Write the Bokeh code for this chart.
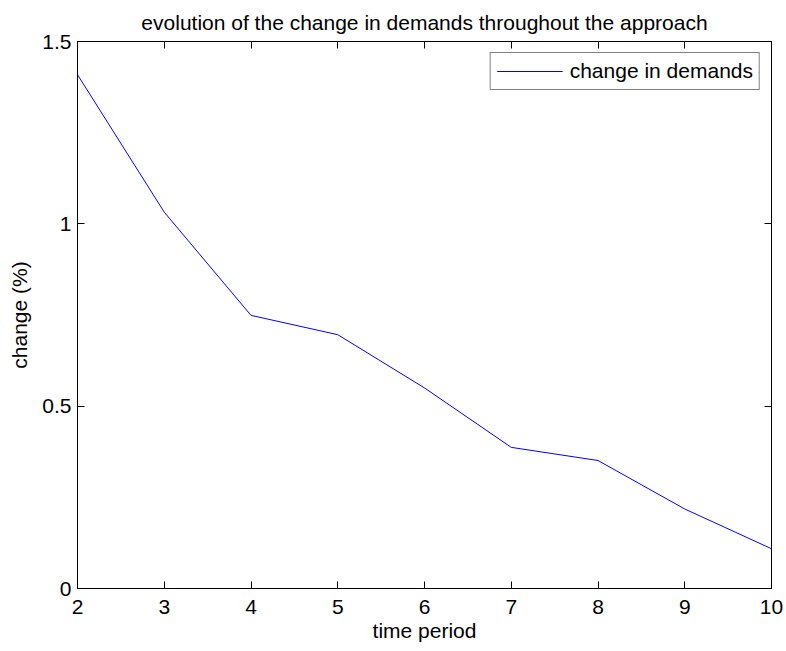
from bokeh.plotting import figure
from bokeh.models import Range1d, FixedTicker, LinearAxis, Legend, LegendItem
from bokeh.embed import file_html
from bokeh.resources import INLINE

time_period = [2, 3, 4, 5, 6, 7, 8, 9, 10]
change_pct = [1.409, 1.032, 0.749, 0.696, 0.550, 0.387, 0.351, 0.218, 0.109]
x_ticks = [2, 3, 4, 5, 6, 7, 8, 9, 10]
y_ticks = [0, 0.5, 1, 1.5]
y_tick_labels = ["0", "0.5", "1", "1.5"]

FONT = "Liberation Sans"
FS = "21px"

p = figure(width=786, height=651, output_backend="svg", toolbar_location=None,
           x_range=Range1d(2, 10), y_range=Range1d(0, 1.5),
           min_border_left=77, min_border_right=15, min_border_top=41, min_border_bottom=63,
           title="evolution of the change in demands throughout the approach")
p.title.text_font = FONT
p.title.text_font_size = FS
p.title.text_font_style = "normal"
p.title.align = "center"
p.title.text_color = "black"
p.title.standoff = 16

p.xgrid.visible = False
p.ygrid.visible = False
p.outline_line_color = "black"
p.outline_line_width = 1
p.background_fill_color = "white"
p.border_fill_color = "white"

r = p.line(time_period, change_pct, line_color="#0000ff", line_width=1)

def style(ax, labels=True):
    ax.minor_tick_line_color = None
    ax.major_tick_in = 7
    ax.major_tick_out = 0
    ax.axis_line_color = "black"
    ax.major_tick_line_color = "black"
    ax.major_label_text_font = FONT
    ax.major_label_text_font_size = FS if labels else "0px"
    ax.major_label_text_color = "black"
    ax.axis_label_text_font = FONT
    ax.axis_label_text_font_size = FS
    ax.axis_label_text_font_style = "normal"
    ax.axis_label_text_color = "black"

p.xaxis.ticker = FixedTicker(ticks=x_ticks)
p.yaxis.ticker = FixedTicker(ticks=y_ticks)
p.yaxis.major_label_overrides = {t: l for t, l in zip(y_ticks, y_tick_labels)}
p.xaxis.axis_label = "time period"
p.yaxis.axis_label = "change (%)"
style(p.xaxis[0])
style(p.yaxis[0])
p.xaxis.major_label_standoff = 11
p.yaxis.major_label_standoff = 6
p.xaxis.axis_label_standoff = 2
p.yaxis.axis_label_standoff = 8

top = LinearAxis(ticker=FixedTicker(ticks=x_ticks), major_label_standoff=0)
style(top, labels=False)
right = LinearAxis(ticker=FixedTicker(ticks=y_ticks), major_label_standoff=0)
style(right, labels=False)
p.add_layout(top, "above")
p.add_layout(right, "right")

legend = Legend(items=[LegendItem(label="change in demands", renderers=[r])],
                location="top_right")
legend.label_text_font = FONT
legend.label_text_font_size = FS
legend.label_text_color = "black"
legend.border_line_color = "black"
legend.border_line_width = 1
legend.glyph_width = 66
legend.label_standoff = 7
legend.padding = 6
legend.margin = 11
legend.background_fill_alpha = 1
p.add_layout(legend)

open("out.html", "w").write(file_html(p, INLINE))
